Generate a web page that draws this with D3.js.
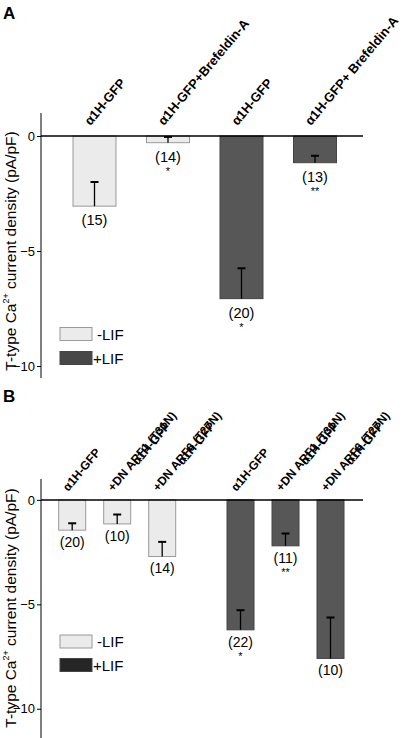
<!DOCTYPE html>
<html><head><meta charset="utf-8">
<script src="https://cdn.jsdelivr.net/npm/d3@7"></script>
</head>
<body style="margin:0;background:#fff"><svg id="c" width="420" height="738"></svg>
<script>
// ---------- Data ----------
const groups = ["-LIF", "+LIF"];
const tickValues = [0, -5, -10];

// Panel A
const labelsA = [["α1H-GFP"], ["α1H-GFP+Brefeldin-A"], ["α1H-GFP"], ["α1H-GFP+ Brefeldin-A"]];
const groupA = ["-LIF", "-LIF", "+LIF", "+LIF"];
const meanA = [-3.05, -0.29, -7.07, -1.16];
const semA = [1.05, 0.25, 1.32, 0.30];
const nA = ["(15)", "(14)", "(20)", "(13)"];
const sigA = ["", "*", "*", "**"];

// Panel B
const labelsB = [["α1H-GFP"], ["α1H-GFP", "+DN ARF1 (T31N)"], ["α1H-GFP", "+DN ARF6 (T27N)"],
                 ["α1H-GFP"], ["α1H-GFP", "+DN ARF1 (T31N)"], ["α1H-GFP", "+DN ARF6 (T27N)"]];
const groupB = ["-LIF", "-LIF", "-LIF", "+LIF", "+LIF", "+LIF"];
const meanB = [-1.45, -1.15, -2.71, -6.22, -2.20, -7.59];
const semB = [0.33, 0.45, 0.70, 0.94, 0.59, 1.96];
const nB = ["(20)", "(10)", "(14)", "(22)", "(11)", "(10)"];
const sigB = ["", "", "", "*", "**", ""];

// ---------- Drawing ----------
const FONT = "Liberation Sans";
const svg = d3.select("#c");
const fill = {"-LIF": "#ebebeb", "+LIF": "#575757"};
const stroke = {"-LIF": "#9a9a9a", "+LIF": "#444"};
const ANG = 50, rad = ANG * Math.PI / 180;

function txt(parent) { return parent.append("text").attr("font-family", FONT); }

// measure cumulative glyph offsets of a string (unrotated)
function glyphOffsets(parent, s, size) {
  const m = txt(parent).attr("font-size", size).attr("font-weight", "bold").attr("x", 0).attr("y", 0).text(s);
  const node = m.node();
  const n = node.getNumberOfChars();
  const offs = [];
  for (let j = 0; j < n; j++) offs.push(node.getStartPositionOfChar(j).x);
  const total = node.getComputedTextLength();
  m.remove();
  return {offs, total};
}

function panel(cfg) {
  const g = svg.append("g");
  const y = d3.scaleLinear().domain(cfg.yDomain).range(cfg.yRange);
  const idx = d3.range(cfg.labels.length);
  const gx = d3.scaleBand().domain(groups).range(cfg.xRange).paddingInner(cfg.groupPad);
  const inner = {};
  groups.forEach(gr => {
    const items = idx.filter(i => cfg.group[i] === gr);
    inner[gr] = d3.scaleBand().domain(items).range([0, gx.bandwidth()])
      .paddingInner(cfg.barPad).paddingOuter(cfg.barPad / 2);
  });
  const xL = i => gx(cfg.group[i]) + inner[cfg.group[i]](i);
  const bw = inner[groups[0]].bandwidth();
  const xC = i => xL(i) + bw / 2;

  txt(g).attr("x", 3).attr("y", cfg.letterY).text(cfg.letter)
    .attr("font-size", 17).attr("font-weight", "bold");

  const ax = g.append("g").attr("transform", `translate(${cfg.axisX},0)`)
    .call(d3.axisLeft(y).tickValues(tickValues).tickSize(4).tickPadding(2).tickFormat(d3.format("d")));
  ax.attr("font-family", FONT).attr("font-size", 13);
  ax.select(".domain").attr("d", `M0,${cfg.yRange[0]}V${cfg.yRange[1]}`).attr("stroke", "#000");
  ax.selectAll("text").attr("fill", "#000");

  const yl = txt(g).attr("transform", `translate(${cfg.ylabX},${cfg.ylabY}) rotate(-90)`)
    .attr("text-anchor", "middle").attr("font-size", 15.5);
  yl.append("tspan").text("T-type Ca");
  yl.append("tspan").text("2+").attr("font-size", 9).attr("dy", -7);
  yl.append("tspan").text(" current density (pA/pF)").attr("dy", 7);

  g.selectAll("rect.bar").data(idx).enter().append("rect").attr("class", "bar")
    .attr("x", i => xL(i)).attr("width", bw)
    .attr("y", y(0)).attr("height", i => y(cfg.mean[i]) - y(0))
    .attr("fill", i => fill[cfg.group[i]]).attr("stroke", i => stroke[cfg.group[i]]).attr("stroke-width", 1);

  const eb = g.selectAll("g.eb").data(idx).enter().append("g").attr("class", "eb");
  eb.append("line").attr("x1", xC).attr("x2", xC)
    .attr("y1", i => y(cfg.mean[i])).attr("y2", i => y(cfg.mean[i] + cfg.sem[i]))
    .attr("stroke", "#000").attr("stroke-width", 1.3);
  eb.append("line").attr("x1", i => xC(i) - 4).attr("x2", i => xC(i) + 4)
    .attr("y1", i => y(cfg.mean[i] + cfg.sem[i])).attr("y2", i => y(cfg.mean[i] + cfg.sem[i]))
    .attr("stroke", "#000").attr("stroke-width", 2);

  g.append("line").attr("x1", cfg.axisX).attr("x2", cfg.zeroEnd).attr("y1", y(0)).attr("y2", y(0))
    .attr("stroke", "#000").attr("stroke-width", 1.5);

  idx.forEach(i => {
    txt(g).attr("x", xC(i)).attr("y", y(cfg.mean[i]) + cfg.nOff)
      .attr("text-anchor", "middle").attr("font-size", cfg.nSize).text(cfg.n[i]);
    if (cfg.sig[i]) txt(g).attr("x", xC(i)).attr("y", y(cfg.mean[i]) + cfg.nOff + cfg.sigOff)
      .attr("text-anchor", "middle").attr("font-size", 11).text(cfg.sig[i]);
  });

  // category labels: each glyph placed along a 50° diagonal and rotated individually
  idx.forEach(i => {
    const lines = cfg.labels[i];
    const ox = xC(i) + cfg.labDx, oy = y(0) + cfg.labDy;
    const meas = lines.map(s => glyphOffsets(g, s, cfg.labSize));
    const mw = d3.max(meas, m => m.total);
    lines.forEach((s, k) => {
      const along0 = (mw - meas[k].total) / 2;
      const up = (lines.length - 1 - k) * cfg.labSize;
      const bx = ox + up * Math.sin(rad), by = oy - up * Math.cos(rad);
      const xs = meas[k].offs.map(o => (bx + (along0 + o) * Math.cos(rad)).toFixed(2));
      const ys = meas[k].offs.map(o => (by - (along0 + o) * Math.sin(rad)).toFixed(2));
      const rs = meas[k].offs.map(() => -ANG);
      txt(g).attr("font-size", cfg.labSize).attr("font-weight", "bold")
        .attr("x", xs.join(" ")).attr("y", ys.join(" ")).attr("rotate", rs.join(" "))
        .text(s);
    });
  });

  groups.forEach((gr, k) => {
    g.append("rect").attr("x", 60).attr("y", cfg.legY + k * cfg.legStep).attr("width", 32).attr("height", 13)
      .attr("fill", cfg.legFill[gr]).attr("stroke", stroke[gr]);
    txt(g).attr("x", gr === "-LIF" ? 97 : 93).attr("y", cfg.legY + k * cfg.legStep + 12)
      .attr("font-size", 15).text(gr);
  });
}

panel({
  letter: "A", letterY: 19,
  labels: labelsA, group: groupA, mean: meanA, sem: semA, n: nA, sig: sigA,
  yDomain: [1, -10.52], yRange: [113, 378], axisX: 41, zeroEnd: 363,
  xRange: [57.75, 351.75], groupPad: 0, barPad: 0.415,
  ylabX: 16, ylabY: 251,
  nOff: 19, nSize: 14.5, sigOff: 13,
  labDx: -4, labDy: -10, labSize: 13,
  legY: 327.5, legStep: 24, legFill: {"-LIF": "#ebebeb", "+LIF": "#474747"}
});

panel({
  letter: "B", letterY: 402,
  labels: labelsB, group: groupB, mean: meanB, sem: semB, n: nB, sig: sigB,
  yDomain: [1, -11.4], yRange: [479, 738], axisX: 41, zeroEnd: 363,
  xRange: [49.7, 353], groupPad: 0.198, barPad: 0.4,
  ylabX: 16, ylabY: 608,
  nOff: 17, nSize: 14, sigOff: 13,
  labDx: -4, labDy: -8, labSize: 12,
  legY: 635, legStep: 23.5, legFill: {"-LIF": "#ebebeb", "+LIF": "#262626"}
});
</script></body></html>
